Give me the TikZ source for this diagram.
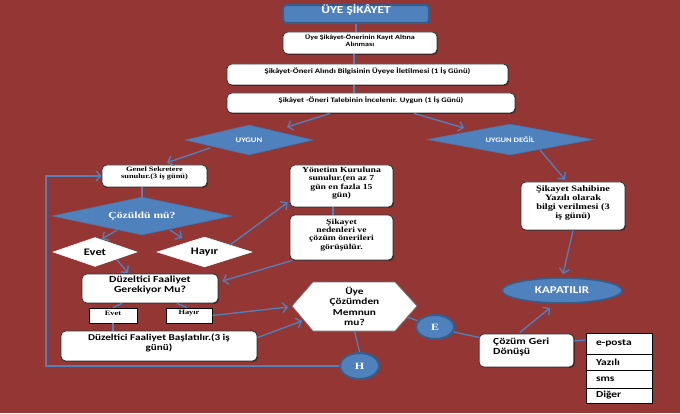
\documentclass[tikz,border=0pt]{standalone}
\usepackage{fontspec}
\newfontfamily\calb[FakeStretch=1.25]{Carlito}
\newfontfamily\tmsb[FakeStretch=1.25]{Liberation Serif}
\usetikzlibrary{arrows.meta,shapes.geometric,fit,calc,shadows}
\definecolor{bgred}{RGB}{148,54,52}
\definecolor{ablue}{RGB}{79,129,189}
\definecolor{dblue}{RGB}{56,93,138}
\newcommand\fs[2]{\fontsize{#1}{#2}\selectfont}
\begin{document}
\begin{tikzpicture}[x=0.75pt,y=-0.75pt,
  wbox/.style={draw=black!80, line width=0.6pt, fill=white, rounded corners=3.5pt, inner sep=0pt, align=center,
     drop shadow={shadow xshift=0.7pt, shadow yshift=-0.7pt, opacity=0.45, fill=black}},
  sbox/.style={draw=black, line width=0.6pt, fill=white, inner sep=0pt, align=center},
  bdia/.style={diamond, fill=ablue, draw=ablue!90!black, inner sep=0pt, text=white, align=center},
  wdia/.style={diamond, fill=white, draw=white, inner sep=0pt, align=center},
  bell/.style={ellipse, fill=ablue, draw=dblue, line width=1.5pt, inner sep=0pt, text=white},
  conn/.style={draw=ablue, line width=1pt},
  arr/.style={conn, -{Straight Barb[length=3.5pt,width=7.5pt]}},
  cell/.style={draw=black, line width=0.6pt, fill=white, inner xsep=7.5pt, inner ysep=0pt, text width=34.5pt, align=left,
     font=\calb\bfseries\fs{6.9}{8}}
]
\fill[bgred] (0,0) rectangle (680,413);
\useasboundingbox (0,0) rectangle (680,413);

% top chain
\node[fit={(283,5) (429,23)}, inner sep=0pt, fill=ablue, draw=dblue, line width=1.6pt, rounded corners=2.5pt,
      text=white, font=\calb\bfseries\fs{8}{9}] (title) {ÜYE ŞİKÂYET};
\node[wbox, fit={(283,32) (437,54)}, font=\calb\bfseries\fs{4.8}{5.2}] (b2) {Üye Şikâyet-Önerinin Kayıt Altına\\Alınması};
\node[wbox, fit={(227,64) (508,85)}, font=\calb\bfseries\fs{5.2}{6}] (b3) {Şikâyet-Öneri Alındı Bilgisinin Üyeye İletilmesi (1 İş Günü)};
\node[wbox, fit={(227,93) (515,113)}, font=\calb\bfseries\fs{5.15}{6}] (b4) {Şikâyet -Öneri Talebinin İncelenir. Uygun (1 İş Günü)};

\draw[conn] (title.south) -- (title.south |- b2.north);
\draw[conn] ($(b2.south)+(-6,0)$) -- ($(b3.north)+(-13.5,0)$);
\draw[conn] ($(b3.south)+(-13.5,0)$) -- ($(b4.north)+(-17,0)$);

% decision diamonds
\node[bdia, shape aspect=4.27, minimum width=96pt, minimum height=22.5pt, font=\calb\bfseries\fs{5.2}{6}] (uy) at (249,140) {UYGUN};
\node[bdia, shape aspect=5.35, minimum width=124.5pt, minimum height=23.25pt, font=\calb\bfseries\fs{5.1}{6}] (ud) at (510,139.5) {UYGUN DEĞİL};
\draw[arr] ($(b4.south)+(-41,0)$) -- ($(uy)+(38,-13)$);
\draw[arr] ($(b4.south)+(43,0)$) -- ($(ud)+(-46,-11.5)$);

% left branch
\node[wbox, fit={(102,165) (207,187)}, font=\tmsb\bfseries\fs{5}{5.6}] (gs) {Genel Sekretere\\sunulur.(3 iş günü)};
\draw[arr] ($(uy)+(-39,8)$) -- ($(gs.north)+(12.5,-2)$);

\node[bdia, shape aspect=4.74, minimum width=135pt, minimum height=28.5pt, font=\tmsb\bfseries\fs{7}{8}] (coz) at (142,216) {Çözüldü mü?};
\draw[conn] (coz.north) -- (coz.north |- gs.south);

\node[wdia, shape aspect=2.9, minimum width=63pt, minimum height=21.75pt, font=\calb\bfseries\fs{7.5}{8}] (ev) at (95,252) {Evet};
\node[wdia, shape aspect=3.17, minimum width=71.25pt, minimum height=22.5pt, font=\calb\bfseries\fs{7.5}{8}] (hy) at (204.5,252) {Hayır};
\draw[arr] ($(coz)+(-25,14)$) -- ($(ev)+(7,-13)$);
\draw[arr] ($(coz)+(28,14)$) -- ($(hy)+(-22.5,-14)$);

\node[wbox, fit={(290,165) (393,207)}, font=\tmsb\bfseries\fs{5.8}{6.3}] (yk) {Yönetim Kuruluna\\sunulur.(en az 7\\gün en fazla 15\\gün)};
\node[wbox, fit={(290,215) (393,260)}, font=\tmsb\bfseries\fs{5.8}{6.3}] (sn) {Şikayet\\nedenleri ve\\çözüm önerileri\\görüşülür.};
\draw[conn] ($(yk.south)+(-8.5,0)$) -- ($(sn.north)+(-8.5,0)$);
\draw[arr] ($(hy)+(25.5,-7)$) -- ($(yk.south west)+(-2,-5)$);

\node[wbox, fit={(82,274) (218,303)}, font=\calb\bfseries\fs{7}{7.5}] (dg) {Düzeltici Faaliyet\\Gerekiyor Mu?};
\draw[arr] ($(ev)+(22,8)$) -- ($(dg)+(-22,-15.5)$);
\draw[arr] ($(sn.south west)+(3,0)$) -- ($(dg.east)+(4,-7.5)$);

\node[sbox, fit={(89,308) (137,323)}, font=\tmsb\bfseries\fs{5}{6}] (se) {Evet};
\node[sbox, fit={(166,308) (212,323)}, font=\tmsb\bfseries\fs{5}{6}] (sh) {Hayır};
\draw[conn] ($(dg.south)+(-28,0)$) -- ($(se.north)+(0,0)$);
\draw[conn] ($(dg.south)+(27,0)$) -- ($(sh.north)+(-2,0)$);

\node[wbox, fit={(61,331) (257,361)}, font=\calb\bfseries\fs{6.7}{7.5}] (dfb) {Düzeltici Faaliyet Başlatılır.(3 iş\\günü)};
\draw[conn] (se.south) -- (se.south |- dfb.north);

% hexagon
\coordinate (hexL) at (292,306);
\coordinate (hexR) at (417,306);
\coordinate (hexB) at (354.5,331);
\filldraw[fill=white, draw=black!55, line width=0.5pt] (hexL) -- (313,282) -- (395,282) -- (hexR) -- (395,331) -- (313,331) -- cycle;
\node[align=center, inner sep=0pt, font=\calb\bfseries\fs{6.8}{7.9}] (hex) at (354.5,306.5) {Üye\\Çözümden\\Memnun\\mu?};
\draw[arr] (sh.east) -- ($(hexL)+(-4,1)$);
\draw[arr] ($(dfb.north east)+(0,7)$) -- ($(hexL)+(10,15)$);

% circles
\node[bell, minimum width=28.5pt, minimum height=18pt, font=\tmsb\bfseries\fs{7.2}{8}] (E) at (435,327) {E};
\node[bell, minimum width=29.25pt, minimum height=19.5pt, font=\tmsb\bfseries\fs{7.2}{8}] (H) at (359.5,366) {H};
\draw[conn] ($(hexR)+(-10,11)$) -- (E.160);
\draw[conn] (hexB) -- (H.north);
\draw[arr] (H.west) -- ++(-293,0) |- (gs.west);

% right branch
\node[wbox, fit={(521,182) (625,230)}, font=\tmsb\bfseries\fs{6.2}{6.6}] (ss) {Şikayet Sahibine\\Yazılı olarak\\bilgi verilmesi (3\\iş günü)};
\draw[arr] ($(ud)+(30,10.5)$) -- ($(ss.north)+(-8,-2)$);

\node[bell, minimum width=90pt, minimum height=18.75pt, line width=1.2pt, font=\calb\bfseries\fs{7.8}{8}] (kap) at (562,290.5) {KAPATILIR};
\draw[arr] (ss.south) -- ($(kap.north)+(1,-3)$);

\node[wbox, fit={(479,334) (574,367)}, inner xsep=10.5pt, text width=50pt, align=left, font=\calb\bfseries\fs{7}{7.6}] (cg) {Çözüm Geri\\Dönüşü};
\draw[conn] (E.-15) -- ($(cg.north west)+(1,4)$);
\draw[arr] ($(cg.north west)+(41,-1)$) -- ($(kap.south)+(-12,4)$);

\node[cell, minimum height=15.75pt] (t1) at (619,343.5) {e-posta};
\node[cell, minimum height=12pt] (t2) at (619,362) {Yazılı};
\node[cell, minimum height=13.5pt] (t3) at (619,379) {sms};
\node[cell, minimum height=11.25pt] (t4) at (619,395.5) {Diğer};
\draw[conn] ($(cg.east)+(0,-9.5)$) -- ($(t1.west)+(0,-3.5)$);
\end{tikzpicture}
\end{document}
